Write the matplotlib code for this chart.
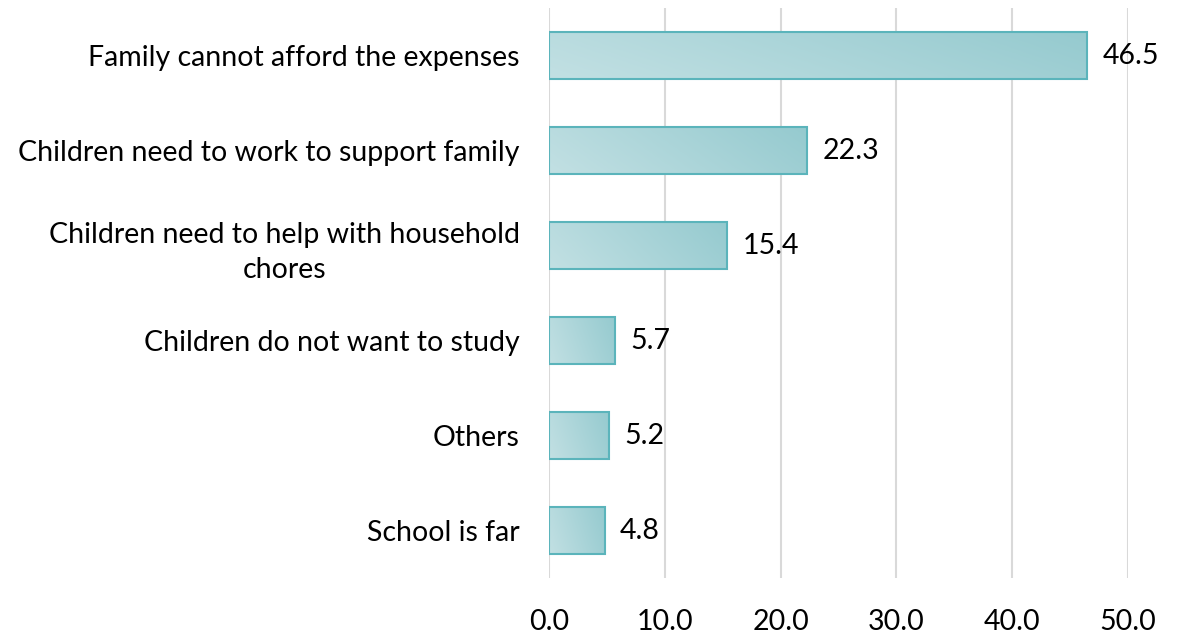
import numpy as np
import matplotlib.pyplot as plt
from matplotlib.colors import LinearSegmentedColormap

plt.rcParams['font.family'] = ['Lato', 'DejaVu Sans']

reasons = ['Family cannot afford the expenses',
           'Children need to work to support family',
           'Children need to help with household\nchores',
           'Children do not want to study',
           'Others',
           'School is far']
shares = [46.5, 22.3, 15.4, 5.7, 5.2, 4.8]
xticks = [0, 10, 20, 30, 40, 50]

fig = plt.figure(figsize=(11.85, 6.34), dpi=100)
ax = fig.add_axes([0.4633, 0.0883, 0.4886, 0.899])

ypos = np.arange(len(reasons))
bars = ax.barh(ypos, shares, height=0.5, color='none',
               edgecolor='#5bb4bb', linewidth=1.5, zorder=3)

# diagonal gradient fill, light on the left to darker teal on the right
cmap = LinearSegmentedColormap.from_list('teal', ['#c2e0e3', '#95cacf'])
gx, gy = np.meshgrid(np.linspace(0, 1, 200), np.linspace(0, 1, 20))
grad = 0.8 * gx + 0.2 * (1 - gy)
for b in bars:
    x0, y0 = b.get_x(), b.get_y()
    w, h = b.get_width(), b.get_height()
    im = ax.imshow(grad, cmap=cmap, extent=(x0, x0 + w, y0 + h, y0),
                   aspect='auto', zorder=2, interpolation='bilinear')
    im.set_clip_path(b)

for y, v in zip(ypos, shares):
    ax.text(v + 1.3, y, f'{v:.1f}', va='center', ha='left', fontsize=20.5)

ax.set_xlim(0, 50)
ax.set_ylim(len(reasons) - 0.5, -0.5)
ax.set_xticks(xticks)
ax.set_xticklabels([f'{t:.1f}' for t in xticks], fontsize=20.5)
ax.set_yticks(ypos)
ax.set_yticklabels(reasons, fontsize=20.5, ha='right',
                   multialignment='center', linespacing=1.45)
ax.tick_params(axis='y', length=0, pad=21)
ax.tick_params(axis='x', length=0, pad=22)
ax.grid(axis='x', color='#d9d9d9', linewidth=1.5, zorder=0)
ax.set_axisbelow(True)
for s in ax.spines.values():
    s.set_visible(False)

fig.savefig('out.png', dpi=100)
